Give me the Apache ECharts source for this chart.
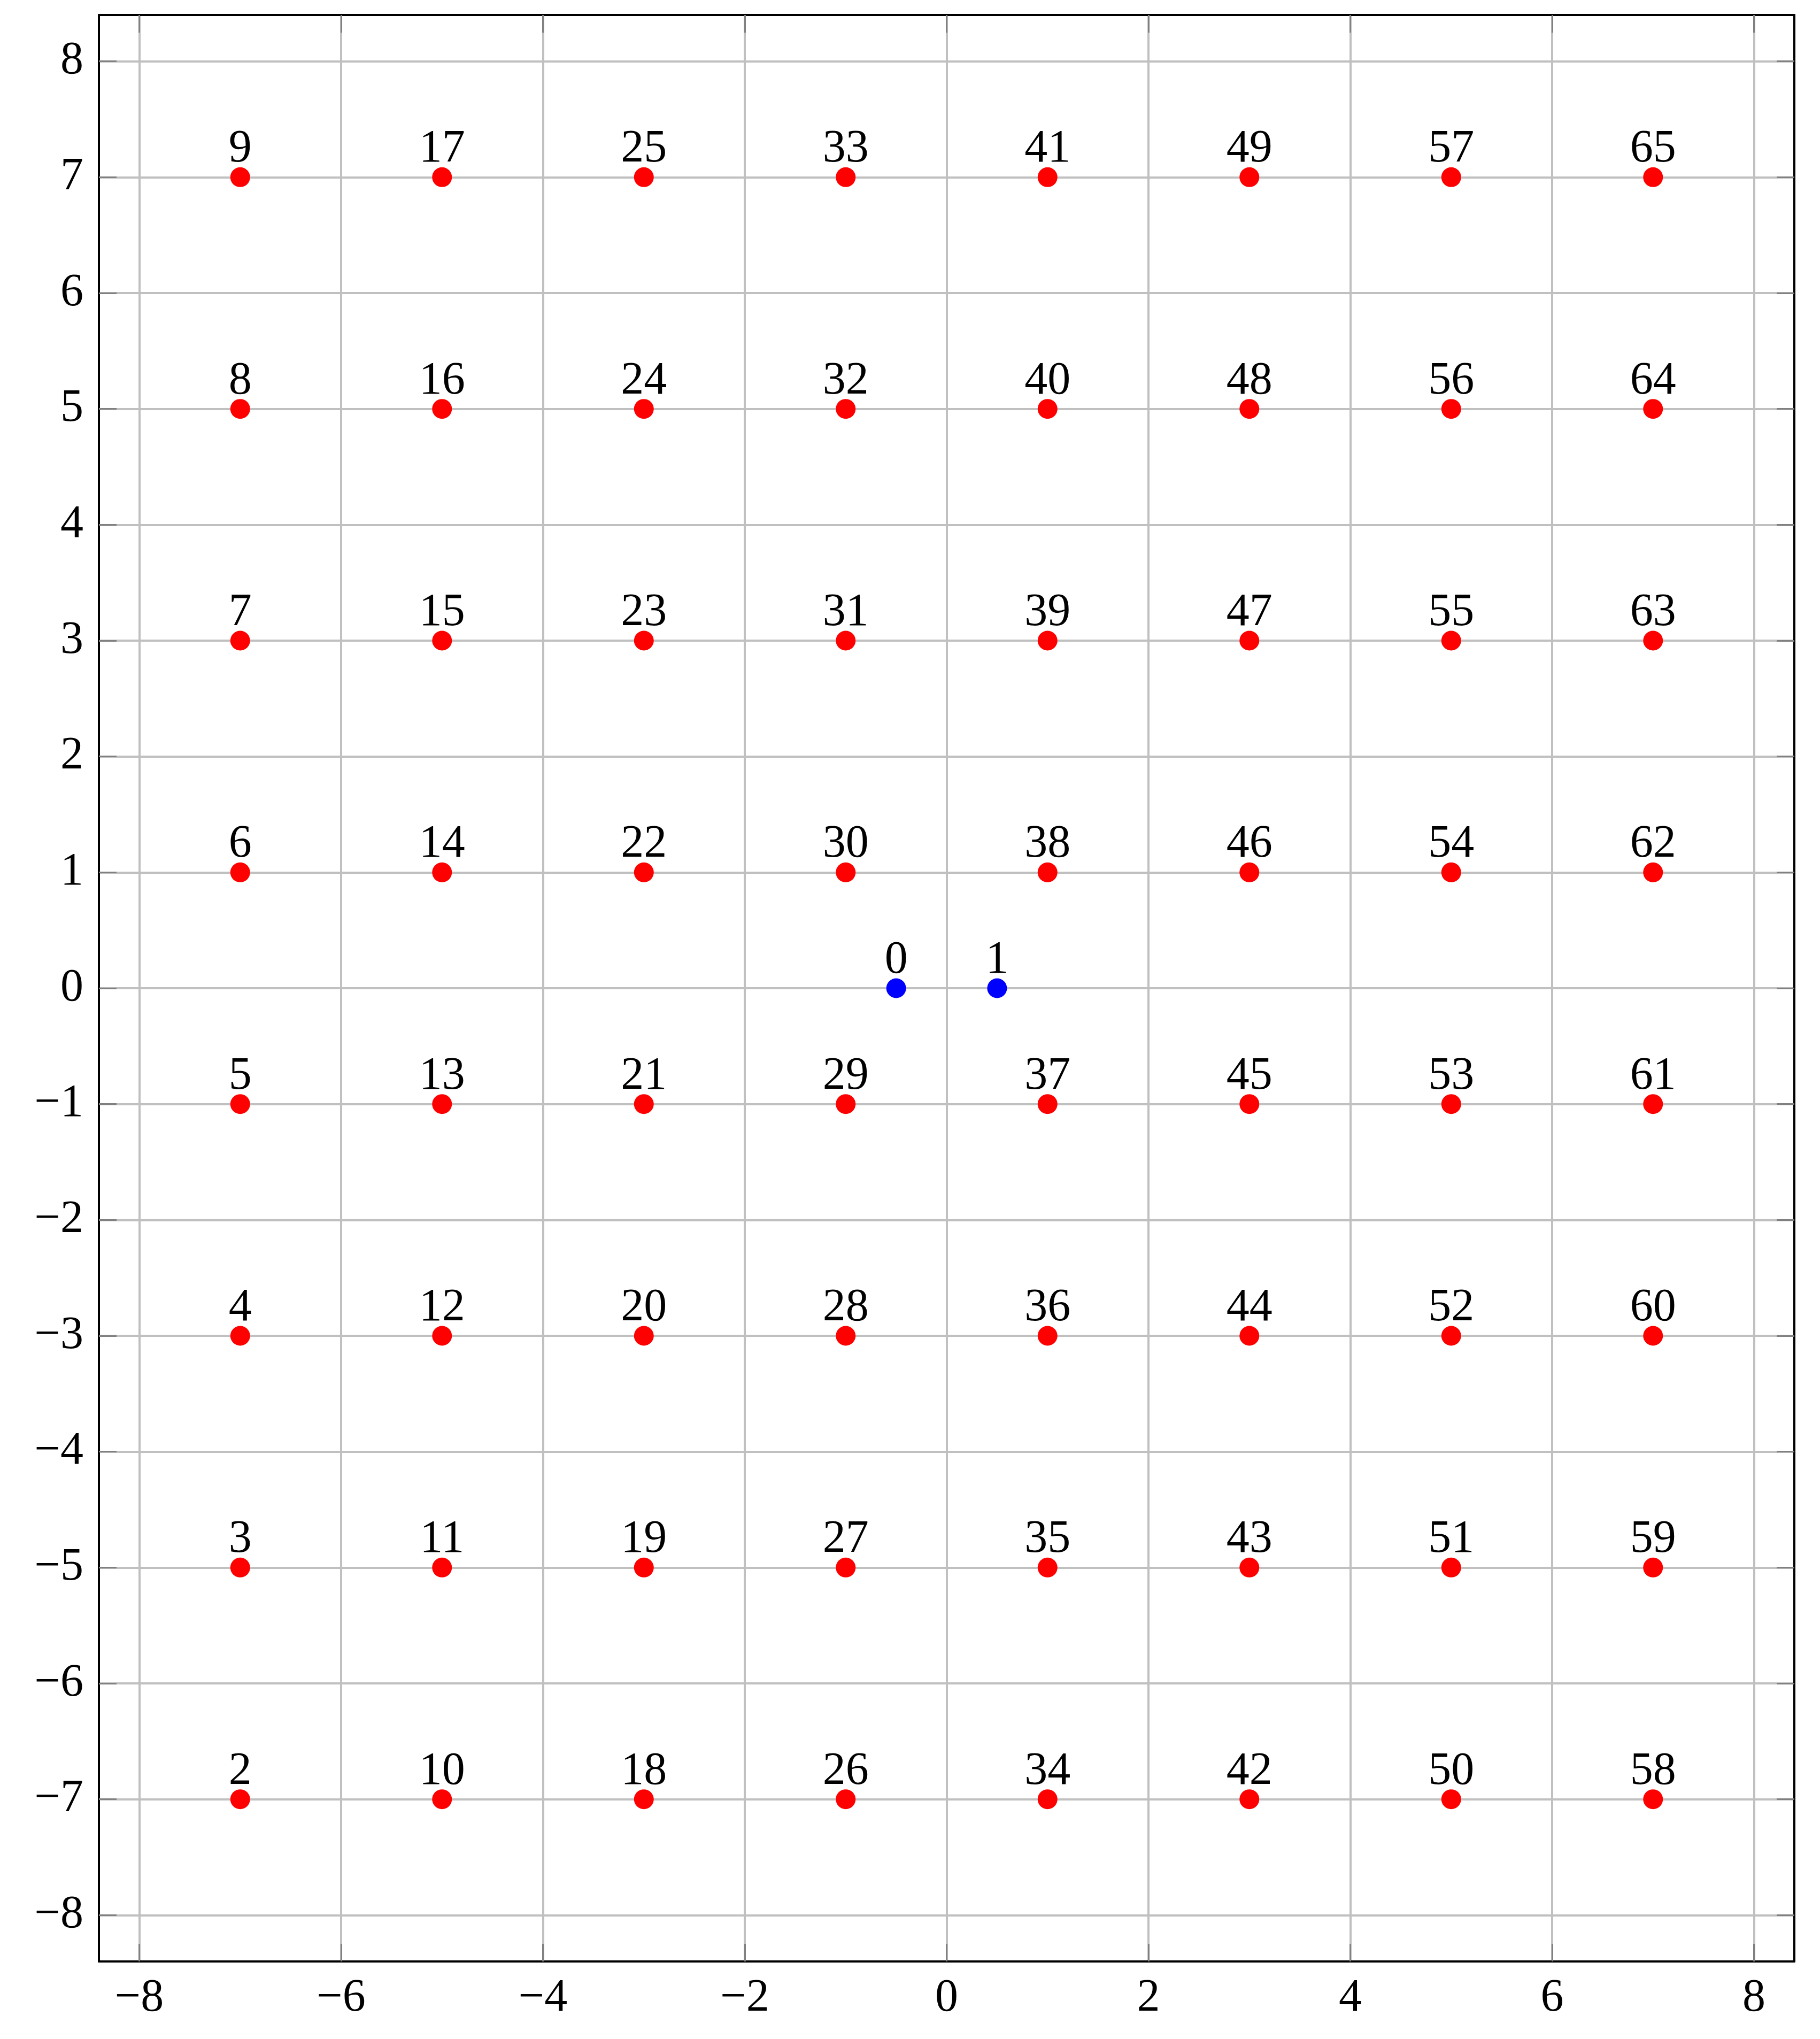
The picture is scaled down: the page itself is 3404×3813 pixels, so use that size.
<!DOCTYPE html>
<html>
<head>
<meta charset="utf-8">
<script src="https://cdn.jsdelivr.net/npm/echarts@6/dist/echarts.min.js"></script>
<style>
  html, body { margin: 0; padding: 0; background: #fff; }
  #main { width: 3404px; height: 3813px; }
</style>
</head>
<body>
<div id="main"></div>
<script>
// 网格点坐标
const gridX = [-7, -5, -3, -1, 1, 3, 5, 7];
const gridY = [-7, -5, -3, -1, 1, 3, 5, 7];
// 每列 (按 x) 的编号, 从下往上
const redLabels = [
    [2, 3, 4, 5, 6, 7, 8, 9],
    [10, 11, 12, 13, 14, 15, 16, 17],
    [18, 19, 20, 21, 22, 23, 24, 25],
    [26, 27, 28, 29, 30, 31, 32, 33],
    [34, 35, 36, 37, 38, 39, 40, 41],
    [42, 43, 44, 45, 46, 47, 48, 49],
    [50, 51, 52, 53, 54, 55, 56, 57],
    [58, 59, 60, 61, 62, 63, 64, 65]
];
// 中间两个蓝点
const blueX = [-0.5, 0.5];
const blueY = [0, 0];
const blueLabels = [0, 1];
// 刻度
const xTicks = [-8, -6, -4, -2, 0, 2, 4, 6, 8];
const yTicks = [-8, -7, -6, -5, -4, -3, -2, -1, 0, 1, 2, 3, 4, 5, 6, 7, 8];

var redData = [];
gridX.forEach(function (x, i) {
    gridY.forEach(function (y, j) {
        redData.push([x, y, redLabels[i][j]]);
    });
});
var blueData = blueX.map(function (x, i) {
    return [x, blueY[i], blueLabels[i]];
});

const FONT = '"Liberation Serif", "DejaVu Serif", serif';
const FS = 86;

function fmt(v) {
    return String(v).replace('-', '\u2212');
}

function makeAxis(pos, main, ticks) {
    return {
        type: 'value',
        position: pos,
        min: -8.4,
        max: 8.4,
        axisLine: { show: true, onZero: false, lineStyle: { color: '#000', width: 4 } },
        axisTick: {
            show: true,
            inside: true,
            length: 33,
            customValues: ticks,
            lineStyle: { color: '#808080', width: 3 }
        },
        axisLabel: {
            show: main,
            customValues: ticks,
            formatter: fmt,
            color: '#000',
            fontFamily: FONT,
            fontSize: FS,
            margin: (pos === 'bottom') ? 26 : 29
        },
        splitLine: {
            show: main,
            lineStyle: { color: '#c0c0c0', width: 4 }
        }
    };
}

var chart = echarts.init(document.getElementById('main'));

var labelStyle = {
    show: true,
    position: 'top',
    distance: -10,
    color: '#000',
    opacity: 1,
    fontFamily: FONT,
    fontSize: FS,
    formatter: function (p) { return p.value[2]; }
};

var option = {
    backgroundColor: '#fff',
    animation: false,
    grid: { left: 185, right: 48, top: 28, bottom: 145 },
    xAxis: [makeAxis('bottom', true, xTicks), makeAxis('top', false, xTicks)],
    yAxis: [makeAxis('left', true, yTicks), makeAxis('right', false, yTicks)],
    series: [
        {
            type: 'scatter',
            symbolSize: 37,
            itemStyle: { color: '#ff0000', opacity: 1 },
            label: labelStyle,
            data: redData
        },
        {
            type: 'scatter',
            symbolSize: 37,
            itemStyle: { color: '#0000ff', opacity: 1 },
            label: labelStyle,
            data: blueData
        }
    ]
};
chart.setOption(option);
</script>
</body>
</html>
